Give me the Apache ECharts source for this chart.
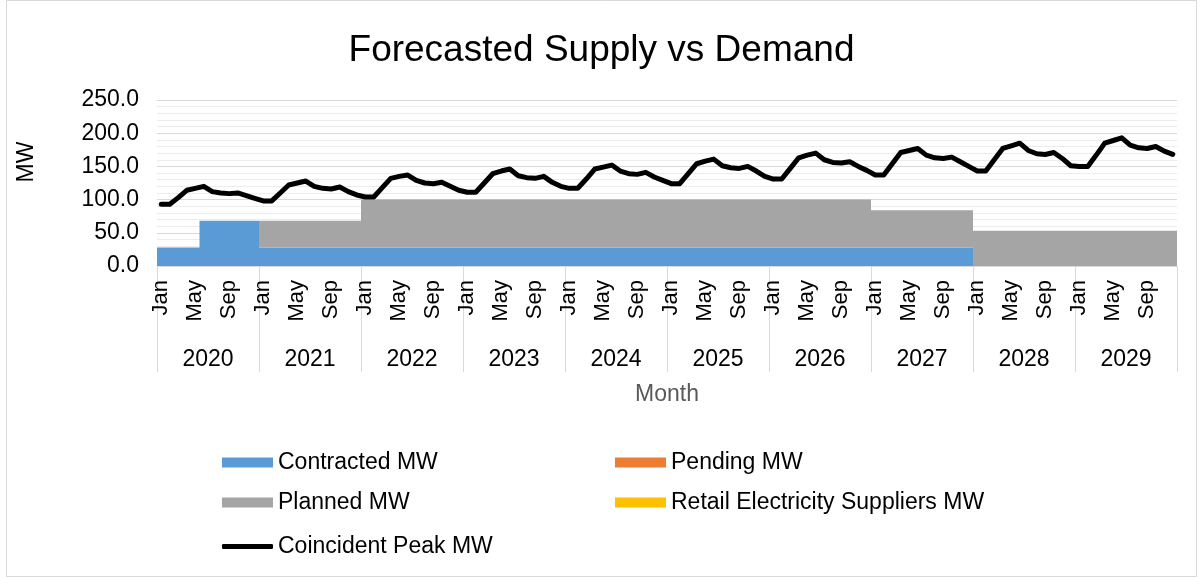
<!DOCTYPE html>
<html>
<head>
<meta charset="utf-8">
<title>Forecasted Supply vs Demand</title>
<script src="https://cdn.jsdelivr.net/npm/echarts@6/dist/echarts.min.js"></script>
<style>
  html, body { margin: 0; padding: 0; background: #fff; }
  #main { width: 1203px; height: 578px; }
</style>
</head>
<body>
<div id="main"></div>
<script>
// data (monthly, Jan 2020 - Dec 2029)
var years = ['2020', '2021', '2022', '2023', '2024', '2025', '2026', '2027', '2028', '2029'];
var monthNames = ['Jan', 'Feb', 'Mar', 'Apr', 'May', 'Jun', 'Jul', 'Aug', 'Sep', 'Oct', 'Nov', 'Dec'];
var yTicks = [0, 50, 100, 150, 200, 250];

var contractedMW = [
  28, 28, 28, 28, 28, 68, 68, 68, 68, 68, 68, 68,
  28, 28, 28, 28, 28, 28, 28, 28, 28, 28, 28, 28,
  28, 28, 28, 28, 28, 28, 28, 28, 28, 28, 28, 28,
  28, 28, 28, 28, 28, 28, 28, 28, 28, 28, 28, 28,
  28, 28, 28, 28, 28, 28, 28, 28, 28, 28, 28, 28,
  28, 28, 28, 28, 28, 28, 28, 28, 28, 28, 28, 28,
  28, 28, 28, 28, 28, 28, 28, 28, 28, 28, 28, 28,
  28, 28, 28, 28, 28, 28, 28, 28, 28, 28, 28, 28,
  0, 0, 0, 0, 0, 0, 0, 0, 0, 0, 0, 0,
  0, 0, 0, 0, 0, 0, 0, 0, 0, 0, 0, 0
];
var pendingMW = [
  0, 0, 0, 0, 0, 0, 0, 0, 0, 0, 0, 0,
  0, 0, 0, 0, 0, 0, 0, 0, 0, 0, 0, 0,
  0, 0, 0, 0, 0, 0, 0, 0, 0, 0, 0, 0,
  0, 0, 0, 0, 0, 0, 0, 0, 0, 0, 0, 0,
  0, 0, 0, 0, 0, 0, 0, 0, 0, 0, 0, 0,
  0, 0, 0, 0, 0, 0, 0, 0, 0, 0, 0, 0,
  0, 0, 0, 0, 0, 0, 0, 0, 0, 0, 0, 0,
  0, 0, 0, 0, 0, 0, 0, 0, 0, 0, 0, 0,
  0, 0, 0, 0, 0, 0, 0, 0, 0, 0, 0, 0,
  0, 0, 0, 0, 0, 0, 0, 0, 0, 0, 0, 0
];
var plannedMW = [
  0, 0, 0, 0, 0, 0, 0, 0, 0, 0, 0, 0,
  40, 40, 40, 40, 40, 40, 40, 40, 40, 40, 40, 40,
  72, 72, 72, 72, 72, 72, 72, 72, 72, 72, 72, 72,
  72, 72, 72, 72, 72, 72, 72, 72, 72, 72, 72, 72,
  72, 72, 72, 72, 72, 72, 72, 72, 72, 72, 72, 72,
  72, 72, 72, 72, 72, 72, 72, 72, 72, 72, 72, 72,
  72, 72, 72, 72, 72, 72, 72, 72, 72, 72, 72, 72,
  56, 56, 56, 56, 56, 56, 56, 56, 56, 56, 56, 56,
  53, 53, 53, 53, 53, 53, 53, 53, 53, 53, 53, 53,
  53, 53, 53, 53, 53, 53, 53, 53, 53, 53, 53, 53
];
var retailMW = [
  0, 0, 0, 0, 0, 0, 0, 0, 0, 0, 0, 0,
  0, 0, 0, 0, 0, 0, 0, 0, 0, 0, 0, 0,
  0, 0, 0, 0, 0, 0, 0, 0, 0, 0, 0, 0,
  0, 0, 0, 0, 0, 0, 0, 0, 0, 0, 0, 0,
  0, 0, 0, 0, 0, 0, 0, 0, 0, 0, 0, 0,
  0, 0, 0, 0, 0, 0, 0, 0, 0, 0, 0, 0,
  0, 0, 0, 0, 0, 0, 0, 0, 0, 0, 0, 0,
  0, 0, 0, 0, 0, 0, 0, 0, 0, 0, 0, 0,
  0, 0, 0, 0, 0, 0, 0, 0, 0, 0, 0, 0,
  0, 0, 0, 0, 0, 0, 0, 0, 0, 0, 0, 0
];
var peakMW = [
  93, 93, 103, 114, 117, 120, 112, 110, 109, 110, 106, 102,
  98, 98, 110, 122, 125, 128, 120, 117, 116, 119, 112, 107,
  104, 104, 118, 132, 135, 137, 129, 125, 124, 126, 120, 114,
  111, 111, 125, 139, 143, 146, 136, 133, 132, 135, 126, 120,
  117, 117, 131, 146, 149, 152, 143, 139, 138, 141, 134, 129,
  124, 124, 139, 154, 158, 161, 151, 148, 147, 150, 143, 135,
  131, 131, 147, 163, 167, 170, 160, 156, 155, 157, 150, 144,
  137, 137, 154, 171, 174, 177, 167, 163, 162, 164, 157, 150,
  143, 143, 160, 177, 181, 185, 174, 169, 168, 171, 162, 151,
  150, 150, 167, 185, 189, 193, 182, 178, 177, 180, 173, 168
];

// one category per month, label shows only the month part
var months = [];
years.forEach(function (y) {
  monthNames.forEach(function (m) { months.push(m + ' ' + y); });
});
// month boundaries (start of each month + end of the last one) for the stepped areas
var monthEdges = months.concat(['Jan 2030']);

var font = "'Liberation Sans', Arial, sans-serif";

var myChart = echarts.init(document.getElementById('main'));

// each supply block is a stepped, stacked area that spans the whole month slot
function areaSeries(name, data, color) {
  return {
    name: name,
    type: 'line',
    stack: 'supply',
    step: 'end',
    xAxisIndex: 2,
    data: data.concat(data.slice(-1)),
    symbol: 'none',
    lineStyle: { width: 0, color: color },
    itemStyle: { color: color },
    areaStyle: { color: color, opacity: 1 },
    emphasis: { disabled: true }
  };
}

function legendAt(name, left, top, opts) {
  return Object.assign({
    data: [name],
    left: left,
    top: top,
    padding: 0,
    itemWidth: 51,
    itemHeight: 10,
    icon: 'rect',
    selectedMode: false,
    textStyle: { fontFamily: font, fontSize: 23, color: '#000' }
  }, opts || {});
}

var option = {
  animation: false,
  backgroundColor: '#fff',
  title: {
    text: 'Forecasted Supply vs Demand',
    left: 'center',
    top: 27,
    textStyle: { fontFamily: font, fontSize: 37, fontWeight: 'normal', color: '#000' }
  },
  grid: { left: 157, right: 26, top: 100, bottom: 312, containLabel: false },
  legend: [
    legendAt('Contracted MW', 222, 451),
    legendAt('Pending MW', 615, 451),
    legendAt('Planned MW', 222, 491),
    legendAt('Retail Electricity Suppliers MW', 615, 491),
    legendAt('Coincident Peak MW', 222, 535, { itemHeight: 5, icon: 'roundRect' })
  ],
  xAxis: [{
    type: 'category',
    data: months,
    boundaryGap: true,
    axisLine: { lineStyle: { color: '#d9d9d9', width: 1 } },
    axisTick: { show: false },
    axisLabel: {
      interval: 3,
      rotate: 90,
      margin: 14,
      fontFamily: font,
      fontSize: 22,
      color: '#000',
      formatter: function (v) { return v.split(' ')[0]; }
    },
    splitLine: { show: false },
    z: 10
  }, {
    type: 'category',
    data: years,
    position: 'bottom',
    boundaryGap: true,
    axisLine: { show: false },
    axisTick: { show: true, interval: 0, length: 106, lineStyle: { color: '#d9d9d9' } },
    axisLabel: { interval: 0, margin: 82, fontFamily: font, fontSize: 23, color: '#000' },
    name: 'Month',
    nameLocation: 'middle',
    nameGap: 117,
    nameTextStyle: { fontFamily: font, fontSize: 23, color: '#595959', verticalAlign: 'top' }
  }, {
    type: 'category',
    data: monthEdges,
    boundaryGap: false,
    show: false
  }],
  yAxis: {
    type: 'value',
    min: yTicks[0],
    max: yTicks[yTicks.length - 1],
    interval: yTicks[1] - yTicks[0],
    axisLine: { show: false },
    axisTick: { show: false },
    axisLabel: {
      margin: 18,
      fontFamily: font,
      fontSize: 23,
      color: '#000',
      formatter: function (v) { return v.toFixed(1); }
    },
    splitLine: { lineStyle: { color: '#d9d9d9', width: 1 } },
    minorTick: { show: false, splitNumber: 5 },
    minorSplitLine: { show: true, lineStyle: { color: '#ececec', width: 1 } }
  },
  graphic: [
    {
      type: 'rect',
      shape: { x: 6.5, y: 0.5, width: 1190, height: 576 },
      style: { fill: null, stroke: '#d9d9d9', lineWidth: 1 },
      silent: true,
      z: -10
    },
    {
      type: 'text',
      x: 27,
      y: 162,
      rotation: Math.PI / 2,
      style: { text: 'MW', fontFamily: font, fontSize: 23, fill: '#000', align: 'center', verticalAlign: 'middle' }
    }
  ],
  series: [
    areaSeries('Contracted MW', contractedMW, '#5b9bd5'),
    areaSeries('Pending MW', pendingMW, '#ed7d31'),
    areaSeries('Planned MW', plannedMW, '#a5a5a5'),
    areaSeries('Retail Electricity Suppliers MW', retailMW, '#ffc000'),
    {
      name: 'Coincident Peak MW',
      type: 'line',
      xAxisIndex: 0,
      data: peakMW,
      symbol: 'none',
      z: 5,
      lineStyle: { color: '#000', width: 5, join: 'round', cap: 'round' },
      itemStyle: { color: '#000' },
      emphasis: { disabled: true }
    }
  ]
};

myChart.setOption(option);
window.addEventListener('resize', function () {
  if (myChart) {
    myChart.resize();
  }
});
</script>
</body>
</html>
